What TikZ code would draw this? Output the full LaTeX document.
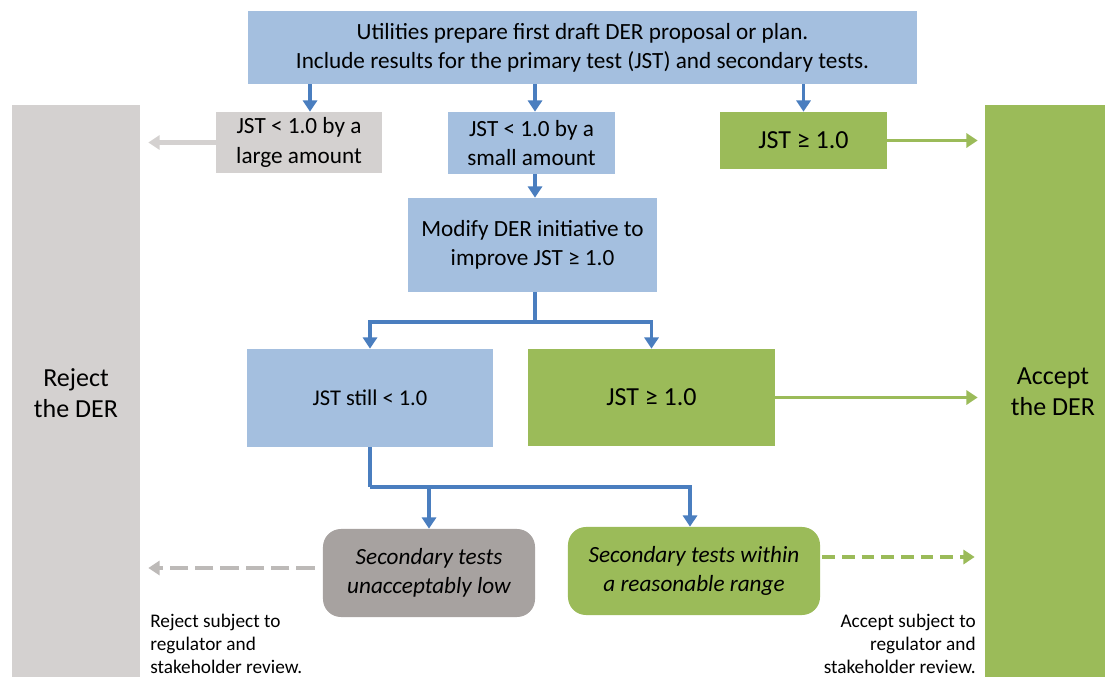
\documentclass[tikz,border=0pt]{standalone}
\usepackage{fontspec}
\setmainfont{Carlito}
\usetikzlibrary{arrows.meta}

\definecolor{derblue}{HTML}{A4BFDF}
\definecolor{derline}{HTML}{4A7EBF}
\definecolor{dergray}{HTML}{D4D1D0}
\definecolor{derdash}{HTML}{BDBAB8}
\definecolor{derdark}{HTML}{A7A2A0}
\definecolor{dergreen}{HTML}{9BBB59}

\tikzset{
	box/.style={inner sep=0pt, align=center, font=\fontsize{16.5}{21}\selectfont},
	bluebox/.style={box, fill=derblue},
	graybox/.style={box, fill=dergray},
	greenbox/.style={box, fill=dergreen},
	roundbox/.style={box, rounded corners=0.45cm, font=\fontsize{16.5}{20.6}\selectfont\itshape},
	bar/.style={inner sep=0pt, align=center, font=\fontsize{18.5}{22}\selectfont},
	flow/.style={draw=derline, line width=2.8pt, -{Triangle[length=8pt, width=10pt]}},
	flowline/.style={draw=derline, line width=2.8pt},
	grayflow/.style={draw=dergray, line width=3.2pt, -{Triangle[length=8pt, width=10pt]}},
	greenflow/.style={draw=dergreen, line width=2.8pt, -{Triangle[length=8pt, width=10pt]}},
	note/.style={inner sep=0pt, font=\fontsize{13.7}{16.3}\selectfont}
}

\begin{document}
\begin{tikzpicture}[x=0.025cm, y=-0.025cm]
	\useasboundingbox (0,0) rectangle (1105,677);

	% боковые полосы
	\node [fill=dergray, inner sep=0pt, minimum width=3.2cm, minimum height=14.875cm] (reject) at (76,402.5) {};
	\node [fill=dergreen, inner sep=0pt, minimum width=3.4cm, minimum height=14.875cm] (accept) at (1053,402.5) {};
	\node [bar] (rejecttext) at (76,393) {Reject\\the DER};
	\node [bar] (accepttext) at (1053,392) {Accept\\the DER};

	% первый уровень
	\node [bluebox, minimum width=16.725cm, minimum height=1.825cm, font=\fontsize{16.5}{20.5}\selectfont] (draft) at (582.5,47.5)
		{Utilities prepare first draft DER proposal or plan.\\Include results for the primary test (JST) and secondary tests.};
	\node [graybox, minimum width=4.15cm, minimum height=1.525cm] (large) at (299,142.5) {JST < 1.0 by a\\large amount};
	\node [bluebox, minimum width=4.175cm, minimum height=1.55cm] (small) at (531.5,143) {JST < 1.0 by a\\small amount};
	\node [greenbox, minimum width=4.175cm, minimum height=1.425cm, font=\fontsize{18.5}{22}\selectfont] (passtop) at (803.5,140.5) {JST ≥ 1.0};

	% второй уровень
	\node [bluebox, minimum width=6.225cm, minimum height=2.35cm] (modify) at (532.5,245) {Modify DER initiative to\\improve JST ≥ 1.0};
	\node [bluebox, minimum width=6.15cm, minimum height=2.45cm, font=\fontsize{16}{20}\selectfont] (still) at (370,398) {JST still < 1.0};
	\node [greenbox, minimum width=6.175cm, minimum height=2.425cm, font=\fontsize{18.5}{22}\selectfont] (passmid) at (651.5,397.5) {JST ≥ 1.0};

	% вторичные тесты
	\node [roundbox, fill=derdark, minimum width=5.3cm, minimum height=2.2cm] (seclow) at (429,573) {Secondary tests\\unacceptably low};
	\node [roundbox, fill=dergreen, minimum width=6.3cm, minimum height=2.2cm] (secok) at (694,571) {Secondary tests within\\a reasonable range};

	% примечания
	\node [note, anchor=north west, align=left] (rejectnote) at (150,614) {Reject subject to\\regulator and\\stakeholder review.};
	\node [note, anchor=north east, align=right] (acceptnote) at (976,614) {Accept subject to\\regulator and\\stakeholder review.};

	% вспомогательные точки
	\coordinate (dl) at (310,0);
	\coordinate (ds) at (535,0);
	\coordinate (okx) at (690,0);
	\coordinate (lowy) at (0,568);
	\coordinate (oky) at (0,557);

	% стрелки
	\draw [flow] (dl|-draft.south) -- (dl|-large.north);
	\draw [flow] (ds|-draft.south) -- (ds|-small.north);
	\draw [flow] (passtop.north|-draft.south) -- (passtop.north);
	\draw [grayflow, shorten >=0.2cm] (large.west) -- (large.west-|reject.east);
	\draw [greenflow, shorten >=0.175cm] (passtop.east) -- (passtop.east-|accept.west);
	\draw [flow] (ds|-small.south) -- (ds|-modify.north);

	\draw [flowline] (ds|-modify.south) -- ++(0,30) coordinate (split1);
	\draw [flow] (split1) -| (still.north);
	\draw [flow] (split1) -| (passmid.north);
	\draw [greenflow, shorten >=0.175cm] (passmid.east) -- (passmid.east-|accept.west);

	\draw [flowline] (still.south) -- ++(0,40) coordinate (split2);
	\draw [flow] (split2) -| (seclow.north);
	\draw [flow] (split2) -| (okx|-secok.north);

	\draw [grayflow, draw=derdash, dash pattern=on 13pt off 5pt, line width=3.5pt, shorten <=0.2cm, shorten >=0.2cm] (seclow.west|-lowy) -- (reject.east|-lowy);
	\draw [greenflow, dash pattern=on 9pt off 5pt, shorten <=0.05cm, shorten >=0.25cm] (secok.east|-oky) -- (accept.west|-oky);
\end{tikzpicture}
\end{document}
